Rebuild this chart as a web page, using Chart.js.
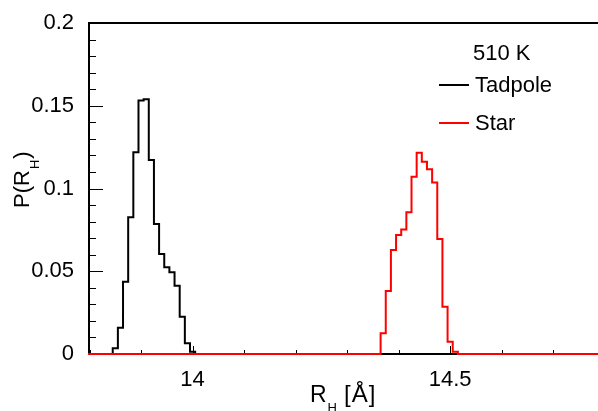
<!DOCTYPE html>
<html>
<head>
<meta charset="utf-8">
<script src="https://cdn.jsdelivr.net/npm/chart.js@4/dist/chart.umd.min.js"></script>
<style>
  html, body { margin: 0; padding: 0; background: #fff; overflow: hidden; }
  #wrap { width: 598px; height: 411px; }
</style>
</head>
<body>
<div id="wrap"><canvas id="chart" width="598" height="411"></canvas></div>
<script>
// histogram bins (bin centres in Angstrom), bin width 0.01
const binWidth = 0.01;
const tadpoleCenters = [13.85, 13.86, 13.87, 13.88, 13.89, 13.90, 13.91, 13.92,
                        13.93, 13.94, 13.95, 13.96, 13.97, 13.98, 13.99, 14.00];
const tadpoleValues = [0.0034, 0.0159, 0.0437, 0.0826, 0.1219, 0.1531, 0.1539, 0.1172,
                       0.0786, 0.0604, 0.0524, 0.0494, 0.0413, 0.0225, 0.0065, 0.0014];
const starCenters = [14.37, 14.38, 14.39, 14.40, 14.41, 14.42, 14.43, 14.44,
                     14.45, 14.46, 14.47, 14.48, 14.49, 14.50, 14.51];
const starValues = [0.0125, 0.0380, 0.0628, 0.0719, 0.0753, 0.0856, 0.1071, 0.1216,
                    0.1162, 0.1116, 0.1037, 0.0695, 0.0286, 0.0074, 0.0014];

const xTickLabels = [14, 14.5];
const yTickLabels = [0, 0.05, 0.1, 0.15, 0.2];
const xRange = [13.797, 14.787];
const yRange = [0, 0.2];

const FONT = "'Liberation Sans', Arial, sans-serif";

// turn bins into a step outline running along the whole x range
function histPoints(centers, values) {
  const pts = [{ x: xRange[0], y: 0 }];
  centers.forEach((c, i) => pts.push({ x: c - binWidth / 2, y: values[i] }));
  pts.push({ x: centers[centers.length - 1] + binWidth / 2, y: 0 });
  pts.push({ x: xRange[1], y: 0 });
  return pts;
}

const framePlugin = {
  id: 'frame',
  beforeDatasetsDraw(chart) {
    const { ctx, chartArea: a, scales } = chart;
    ctx.save();
    ctx.strokeStyle = '#000';
    ctx.lineWidth = 2;
    ctx.beginPath();
    ctx.moveTo(a.left + 1, a.bottom);
    ctx.lineTo(a.left + 1, a.top);
    ctx.lineTo(a.right, a.top);
    ctx.moveTo(a.left, a.bottom);
    ctx.lineTo(a.right, a.bottom);
    ctx.stroke();

    ctx.lineWidth = 1;
    ctx.beginPath();
    for (let i = 0; i <= 20; i++) {
      const y = Math.round(scales.y.getPixelForValue(i / 100)) + 0.5;
      const len = i % 5 === 0 ? 14 : 7;
      ctx.moveTo(a.left + 1, y);
      ctx.lineTo(a.left + 1 + len, y);
    }
    const i0 = Math.ceil(xRange[0] * 10), i1 = Math.floor(xRange[1] * 10);
    for (let i = i0; i <= i1; i++) {
      const x = Math.round(scales.x.getPixelForValue(i / 10)) + 0.5;
      const len = i % 5 === 0 ? 8 : 4;
      ctx.moveTo(x, a.bottom);
      ctx.lineTo(x, a.bottom - len);
    }
    ctx.stroke();
    ctx.restore();
  },
  afterDraw(chart) {
    const ctx = chart.ctx;
    ctx.save();
    ctx.fillStyle = '#000';
    ctx.textBaseline = 'alphabetic';

    // x title: R_H [Å]
    let x = 310;
    ctx.font = `23px ${FONT}`;
    ctx.fillText('R', x, 402);
    x += ctx.measureText('R').width + 1;
    ctx.font = `13px ${FONT}`;
    ctx.fillText('H', x, 412);
    ctx.font = `24px ${FONT}`;
    ctx.letterSpacing = '1px';
    ctx.fillText('[Å]', 344, 402);
    ctx.letterSpacing = '0px';

    // y title: P(R_H)
    ctx.translate(29, 208);
    ctx.rotate(-Math.PI / 2);
    let u = 0;
    ctx.font = `22px ${FONT}`;
    ctx.fillText('P(R', u, 0);
    u += ctx.measureText('P(R').width + 1;
    ctx.font = `13px ${FONT}`;
    ctx.fillText('H', u, 10);
    u += ctx.measureText('H').width + 1;
    ctx.font = `22px ${FONT}`;
    ctx.fillText(')', u, 0);
    ctx.setTransform(1, 0, 0, 1, 0, 0);

    // legend
    ctx.font = `22px ${FONT}`;
    ctx.fillText('510 K', 473, 60);
    const entries = [['Tadpole', '#000000', 92, 85], ['Star', '#ff0000', 130, 123]];
    entries.forEach(([label, color, ty, ly]) => {
      ctx.strokeStyle = color;
      ctx.lineWidth = 2;
      ctx.beginPath();
      ctx.moveTo(439, ly);
      ctx.lineTo(469, ly);
      ctx.stroke();
      ctx.fillText(label, 475, ty);
    });
    ctx.restore();
  }
};

new Chart(document.getElementById('chart'), {
  type: 'line',
  data: {
    datasets: [
      {
        label: 'Tadpole',
        data: histPoints(tadpoleCenters, tadpoleValues),
        borderColor: '#000000',
        borderWidth: 2,
        stepped: 'before',
        pointRadius: 0,
        fill: false,
        order: 1,
        clip: 6,
      },
      {
        label: 'Star',
        data: histPoints(starCenters, starValues),
        borderColor: '#ff0000',
        borderWidth: 2,
        stepped: 'before',
        pointRadius: 0,
        fill: false,
        order: 0,
        clip: 6,
      },
    ],
  },
  options: {
    responsive: false,
    animation: false,
    layout: { padding: { top: 23, left: 0, right: 0, bottom: 0 } },
    plugins: { legend: { display: false }, tooltip: { enabled: false } },
    scales: {
      x: {
        type: 'linear',
        min: xRange[0],
        max: xRange[1],
        grid: { display: false },
        border: { display: false },
        afterBuildTicks: s => { s.ticks = xTickLabels.map(v => ({ value: v })); },
        afterFit: s => { s.height = 57; },
        ticks: {
          color: '#000',
          font: { family: FONT, size: 22 },
          padding: 5,
          maxRotation: 0,
          callback: v => String(v),
        },
      },
      y: {
        min: yRange[0],
        max: yRange[1],
        grid: { display: false },
        border: { display: false },
        afterBuildTicks: s => { s.ticks = yTickLabels.map(v => ({ value: v })); },
        afterFit: s => { s.width = 88; },
        ticks: {
          color: '#000',
          font: { family: FONT, size: 22 },
          padding: 6,
          callback: v => String(v),
        },
      },
    },
  },
  plugins: [framePlugin],
});
</script>
</body>
</html>
